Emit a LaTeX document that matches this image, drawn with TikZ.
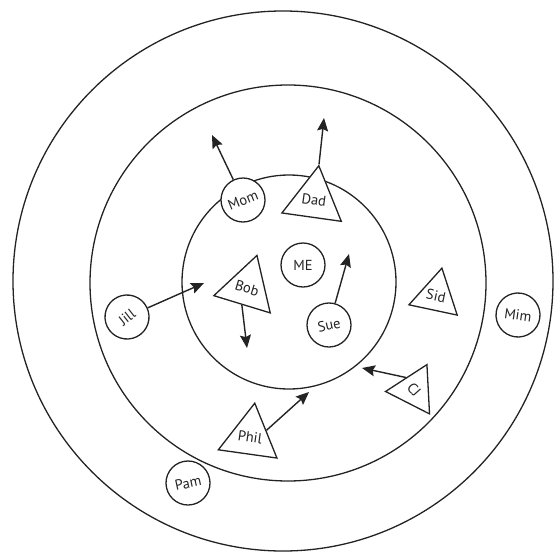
\documentclass[tikz,border=0pt]{standalone}
\usepackage{fontspec}
\setmainfont{PT Sans}
\usepackage{tikz}
\usetikzlibrary{shapes.geometric,arrows.meta}
\definecolor{primary}{RGB}{35, 35, 35}

\begin{document}
\begin{tikzpicture}[x=1pt,y=-1pt,
  ring/.style={primary,line width=1.3pt},
  pal/.style={circle,draw=primary,line width=1.3pt,fill=white,inner sep=0pt,minimum size=44pt,text=primary,font=\fontsize{14.5}{14.5}\selectfont},
  tri/.style={regular polygon,regular polygon sides=3,draw=primary,line width=1.3pt,fill=white,inner sep=0pt,minimum size=57pt,text=primary,font=\fontsize{14.5}{14.5}\selectfont},
  pull/.style={primary,line width=1.4pt,-{Stealth[length=13pt,width=11pt,inset=2pt]}}]
\useasboundingbox (0,0) rectangle (556,551);
% rings
\draw[ring] (283,281) circle (270pt);
\draw[ring] (288,283) circle (198pt);
\draw[ring] (289,282) circle (107pt);
% people
\node[pal] (me) at (303,265) {ME};
\node[pal,rotate=22] (mom) at (243,200) {Mom};
\node[tri,rotate=-8] (dad) at (314,200) {Dad};
\node[pal,rotate=38] (jill) at (127,317) {Jill};
\node[tri,rotate=-17] (bob) at (247,288) {Bob};
\node[pal,rotate=12] (sue) at (329,325) {Sue};
\node[tri,rotate=-12] (sid) at (436,296) {Sid};
\node[pal,rotate=-8] (mim) at (518,315) {Mim};
\node[tri,rotate=-48,regular polygon rotate=21] (cj) at (414,390) {CJ};
\node[tri,rotate=-8] (phil) at (250,437) {Phil};
\node[pal,rotate=12] (pam) at (188,483) {Pam};
% where they are heading
\coordinate (momto) at (212,135);
\coordinate (dadto) at (324,118);
\coordinate (jillto) at (204,283);
\coordinate (bobto) at (247,348);
\coordinate (sueto) at (349,254);
\coordinate (cjto) at (362,368);
\coordinate (philto) at (309,392);
\draw[pull] (mom) -- (momto);
\draw[pull] (dad.corner 1) -- (dadto);
\draw[pull] (jill) -- (jillto);
\draw[pull] (bob.side 2) -- (bobto);
\draw[pull] (sue) -- (sueto);
\draw[pull] (cj.side 1) -- (cjto);
\draw[pull] (phil.side 3) -- (philto);
\end{tikzpicture}
\end{document}
